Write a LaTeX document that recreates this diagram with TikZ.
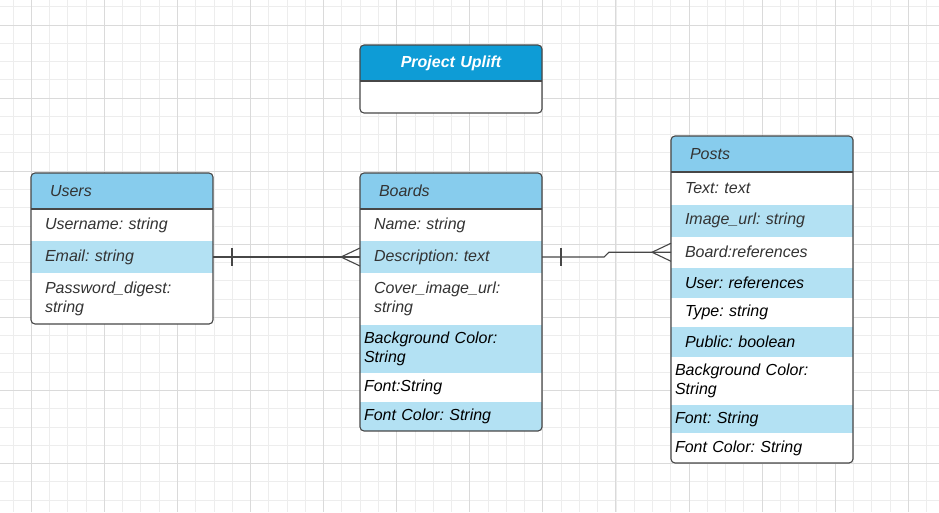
\documentclass[tikz,border=0pt]{standalone}
\usepackage{fontspec}
\setmainfont{Liberation Sans}
\usetikzlibrary{calc,positioning}
\frenchspacing

\definecolor{headblue}{HTML}{87CCED}
\definecolor{rowblue}{HTML}{B3E1F3}
\definecolor{titleblue}{HTML}{0E9CD6}
\definecolor{gridminor}{HTML}{EDEDED}
\definecolor{gridmajor}{HTML}{DADADA}
\definecolor{linegray}{HTML}{474747}
\definecolor{txtgray}{HTML}{333333}

\begin{document}
\begin{tikzpicture}[x=1pt,y=-1pt,
    tblhead/.style={anchor=north west, fill=headblue, minimum width=182pt, minimum height=36pt,
        inner xsep=19pt, inner ysep=0pt, outer sep=0pt, text width=144pt, align=left,
        text=txtgray, font=\fontsize{16}{19}\selectfont\itshape},
    tblrow/.style={anchor=north west, minimum width=182pt, minimum height=#1,
        inner xsep=14pt, inner ysep=0pt, outer sep=0pt, text width=154pt, align=left,
        text=txtgray, font=\fontsize{16}{19}\selectfont\itshape},
    flush/.style={inner xsep=4pt, text width=174pt, text=black},
    hl/.style={fill=rowblue},
    rowbelow/.style={below=0pt of #1.south west, anchor=north west},
    boxline/.style={draw=linegray, line width=1.1pt},
    conn/.style={draw=linegray, line width=1.1pt}]

    % Canvas and background grid
    \useasboundingbox (0,0) rectangle (939,512);
    \fill[white] (0,0) rectangle (939,512);
    \foreach \i in {0,...,51}
        \draw[gridminor, line width=0.8pt] ({13+\i*18.27},0) -- ({13+\i*18.27},512);
    \foreach \j in {0,...,28}
        \draw[gridminor, line width=0.8pt] (0,{6.7+\j*18.27}) -- (939,{6.7+\j*18.27});
    \foreach \i in {0,...,12}
        \draw[gridmajor, line width=0.9pt] ({31.3+\i*73.08},0) -- ({31.3+\i*73.08},512);
    \foreach \j in {0,...,6}
        \draw[gridmajor, line width=0.9pt] (0,{25+\j*73.08}) -- (939,{25+\j*73.08});

    % Title box
    \begin{scope}
        \clip[rounded corners=4pt] (360,45) rectangle (542,113);
        \node[tblhead, fill=titleblue, align=center, inner xsep=4pt, text width=174pt,
            text=white, font=\fontsize{16}{19}\selectfont\bfseries\itshape] (title) at (360,45) {Project Uplift};
        \node[tblrow=32pt, fill=white, rowbelow=title] (titlebody) {};
    \end{scope}
    \draw[boxline, rounded corners=4pt] (title.north west) rectangle (titlebody.south east);
    \draw[boxline] (title.south west) -- (title.south east);

    % Users table
    \begin{scope}
        \clip[rounded corners=4pt] (31,173) rectangle (213,324);
        \node[tblhead] (uhead) at (31,173) {Users};
        \node[tblrow=32pt, fill=white, rowbelow=uhead] (uname) {Username: string};
        \node[tblrow=32pt, hl, rowbelow=uname] (uemail) {Email: string};
        \node[tblrow=51pt, fill=white, rowbelow=uemail] (upass) {Password\_digest:\\string};
    \end{scope}
    \draw[boxline, rounded corners=4pt] (uhead.north west) rectangle (upass.south east);
    \draw[boxline] (uhead.south west) -- (uhead.south east);

    % Boards table
    \begin{scope}
        \clip[rounded corners=4pt] (360,173) rectangle (542,431);
        \node[tblhead] (bhead) at (360,173) {Boards};
        \node[tblrow=32pt, fill=white, rowbelow=bhead] (bname) {Name: string};
        \node[tblrow=32pt, hl, rowbelow=bname] (bdesc) {Description: text};
        \node[tblrow=52pt, fill=white, rowbelow=bdesc] (bcover) {Cover\_image\_url:\\string};
        \node[tblrow=48pt, flush, hl, rowbelow=bcover] (bbg) {Background Color:\\String};
        \node[tblrow=29pt, flush, fill=white, rowbelow=bbg] (bfont) {Font:String};
        \node[tblrow=29pt, flush, hl, rowbelow=bfont] (bfcol) {Font Color: String};
    \end{scope}
    \draw[boxline, rounded corners=4pt] (bhead.north west) rectangle (bfcol.south east);
    \draw[boxline] (bhead.south west) -- (bhead.south east);

    % Posts table
    \begin{scope}
        \clip[rounded corners=4pt] (671,136) rectangle (853,463);
        \node[tblhead] (phead) at (671,136) {Posts};
        \node[tblrow=32.5pt, fill=white, rowbelow=phead] (ptext) {Text: text};
        \node[tblrow=32pt, hl, rowbelow=ptext] (pimage) {Image\_url: string};
        \node[tblrow=31.5pt, fill=white, rowbelow=pimage] (pboard) {Board:references};
        \node[tblrow=29.5pt, hl, text=black, rowbelow=pboard] (puser) {User: references};
        \node[tblrow=29.5pt, fill=white, text=black, rowbelow=puser] (ptype) {Type: string};
        \node[tblrow=29.5pt, hl, text=black, rowbelow=ptype] (ppublic) {Public: boolean};
        \node[tblrow=48.5pt, flush, fill=white, rowbelow=ppublic] (pbg) {Background Color:\\String};
        \node[tblrow=28pt, flush, hl, rowbelow=pbg] (pfont) {Font: String};
        \node[tblrow=30pt, flush, fill=white, rowbelow=pfont] (pfcol) {Font Color: String};
    \end{scope}
    \draw[boxline, rounded corners=4pt] (phead.north west) rectangle (pfcol.south east);
    \draw[boxline] (phead.south west) -- (phead.south east);

    % Users -- Boards (one to many)
    \draw[conn] (uemail.east) -- (bdesc.west);
    \draw[conn] ($(uemail.east)+(19,-9)$) -- ($(uemail.east)+(19,9)$);
    \draw[conn] ($(bdesc.west)+(0,-9)$) -- ($(bdesc.west)+(-19,0)$) -- ($(bdesc.west)+(0,9)$);

    % Boards -- Posts (one to many)
    \draw[conn] (bdesc.east) -- ++(62,0) -- ($(pboard.west)+(-62,0)$) -- (pboard.west);
    \draw[conn] ($(bdesc.east)+(19,-9)$) -- ($(bdesc.east)+(19,9)$);
    \draw[conn] ($(pboard.west)+(0,-9)$) -- ($(pboard.west)+(-19,0)$) -- ($(pboard.west)+(0,9)$);
\end{tikzpicture}
\end{document}
